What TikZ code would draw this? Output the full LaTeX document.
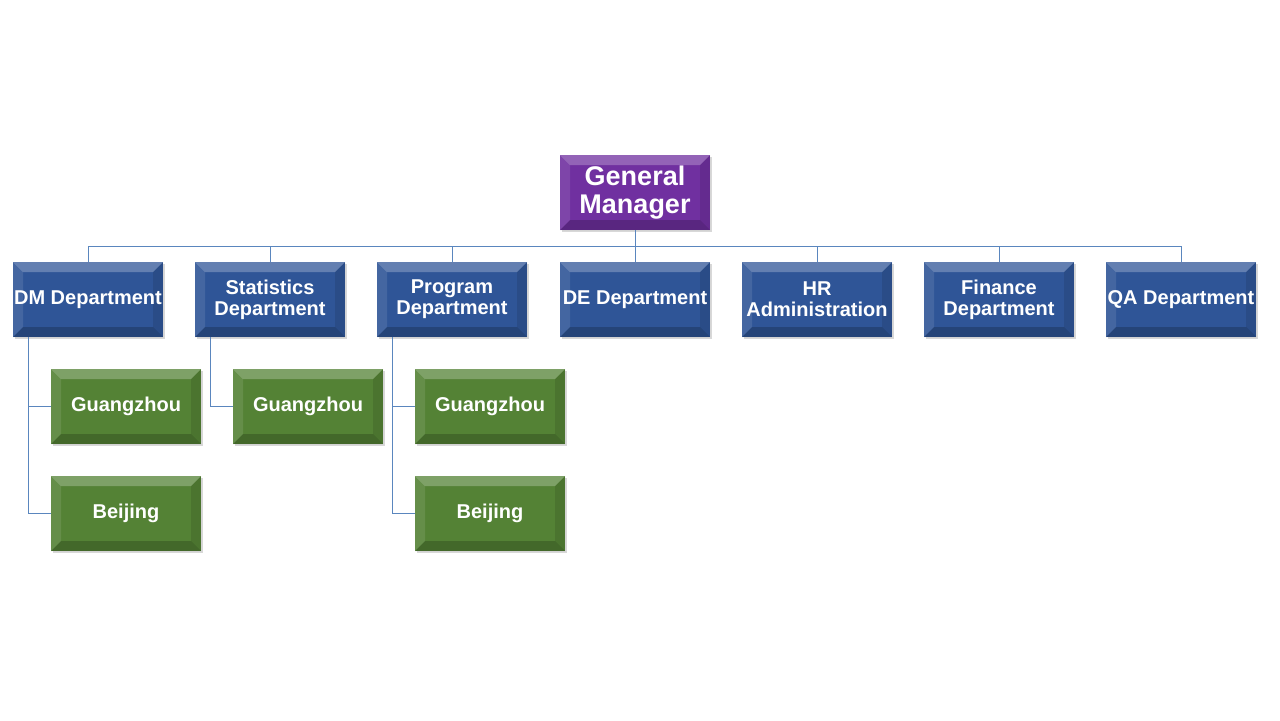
\documentclass[tikz,border=0pt]{standalone}
\usepackage{fontspec}
\setmainfont{Liberation Sans}
\usetikzlibrary{shadows,calc}
\definecolor{gmcol}{HTML}{7030A0}
\definecolor{deptcol}{HTML}{2F5597}
\definecolor{citycol}{HTML}{548235}
\definecolor{linecol}{HTML}{5A86BE}
\tikzset{
  bevelbox/.style={rectangle, fill=#1, minimum width=75pt, minimum height=37.5pt,
    inner sep=0pt, text=white, font=\bfseries\fontsize{10}{10.5}\selectfont, align=center,
    drop shadow={shadow xshift=1.2pt, shadow yshift=-1.2pt, opacity=.3, fill=black!50},
    path picture={
      \def\bv{5pt}
      \coordinate (NW) at (path picture bounding box.north west);
      \coordinate (NE) at (path picture bounding box.north east);
      \coordinate (SW) at (path picture bounding box.south west);
      \coordinate (SE) at (path picture bounding box.south east);
      \fill[white, opacity=.25] (NW) -- (NE) -- ([xshift=-\bv,yshift=-\bv]NE) -- ([xshift=\bv,yshift=-\bv]NW) -- cycle;
      \fill[white, opacity=.1] (NW) -- (SW) -- ([xshift=\bv,yshift=\bv]SW) -- ([xshift=\bv,yshift=-\bv]NW) -- cycle;
      \fill[black, opacity=.2] (SW) -- (SE) -- ([xshift=-\bv,yshift=\bv]SE) -- ([xshift=\bv,yshift=\bv]SW) -- cycle;
      \fill[black, opacity=.1] (NE) -- (SE) -- ([xshift=-\bv,yshift=\bv]SE) -- ([xshift=-\bv,yshift=-\bv]NE) -- cycle;
    }},
  gmbox/.style={bevelbox=gmcol, font=\bfseries\fontsize{13.5}{14}\selectfont},
  deptbox/.style={bevelbox=deptcol},
  citybox/.style={bevelbox=citycol},
  conn/.style={draw=linecol, line width=0.45pt}
}
\begin{document}
\begin{tikzpicture}[x=0.5pt,y=-0.5pt]
\useasboundingbox[fill=white] (0,0) rectangle (1280,720);
\node[gmbox] (gm) at (635,192.5) {General\\Manager};
\node[deptbox] (dm) at (88,299.5) {DM Department};
\node[deptbox] (st) at (270,299.5) {Statistics\\Department};
\node[deptbox] (pr) at (452,299.5) {Program\\Department};
\node[deptbox] (de) at (635,299.5) {DE Department};
\node[deptbox] (hr) at (817,299.5) {HR\\Administration};
\node[deptbox] (fi) at (999,299.5) {Finance\\Department};
\node[deptbox] (qa) at (1181,299.5) {QA Department};
\node[citybox] (dmg) at (126,406.5) {Guangzhou};
\node[citybox] (dmb) at (126,513.5) {Beijing};
\node[citybox] (stg) at (308,406.5) {Guangzhou};
\node[citybox] (prg) at (490,406.5) {Guangzhou};
\node[citybox] (prb) at (490,513.5) {Beijing};
\coordinate (bus) at (635,246);
\draw[conn] (gm.south) -- (bus);
\foreach \d in {dm,st,pr,de,hr,fi,qa}{
  \draw[conn] (\d.north) -- (\d.north |- bus) -- (bus);
}
\draw[conn] ([xshift=8pt]dm.south west) |- (dmg.west);
\draw[conn] ([xshift=8pt]dm.south west) |- (dmb.west);
\draw[conn] ([xshift=8pt]st.south west) |- (stg.west);
\draw[conn] ([xshift=8pt]pr.south west) |- (prg.west);
\draw[conn] ([xshift=8pt]pr.south west) |- (prb.west);
\end{tikzpicture}
\end{document}
